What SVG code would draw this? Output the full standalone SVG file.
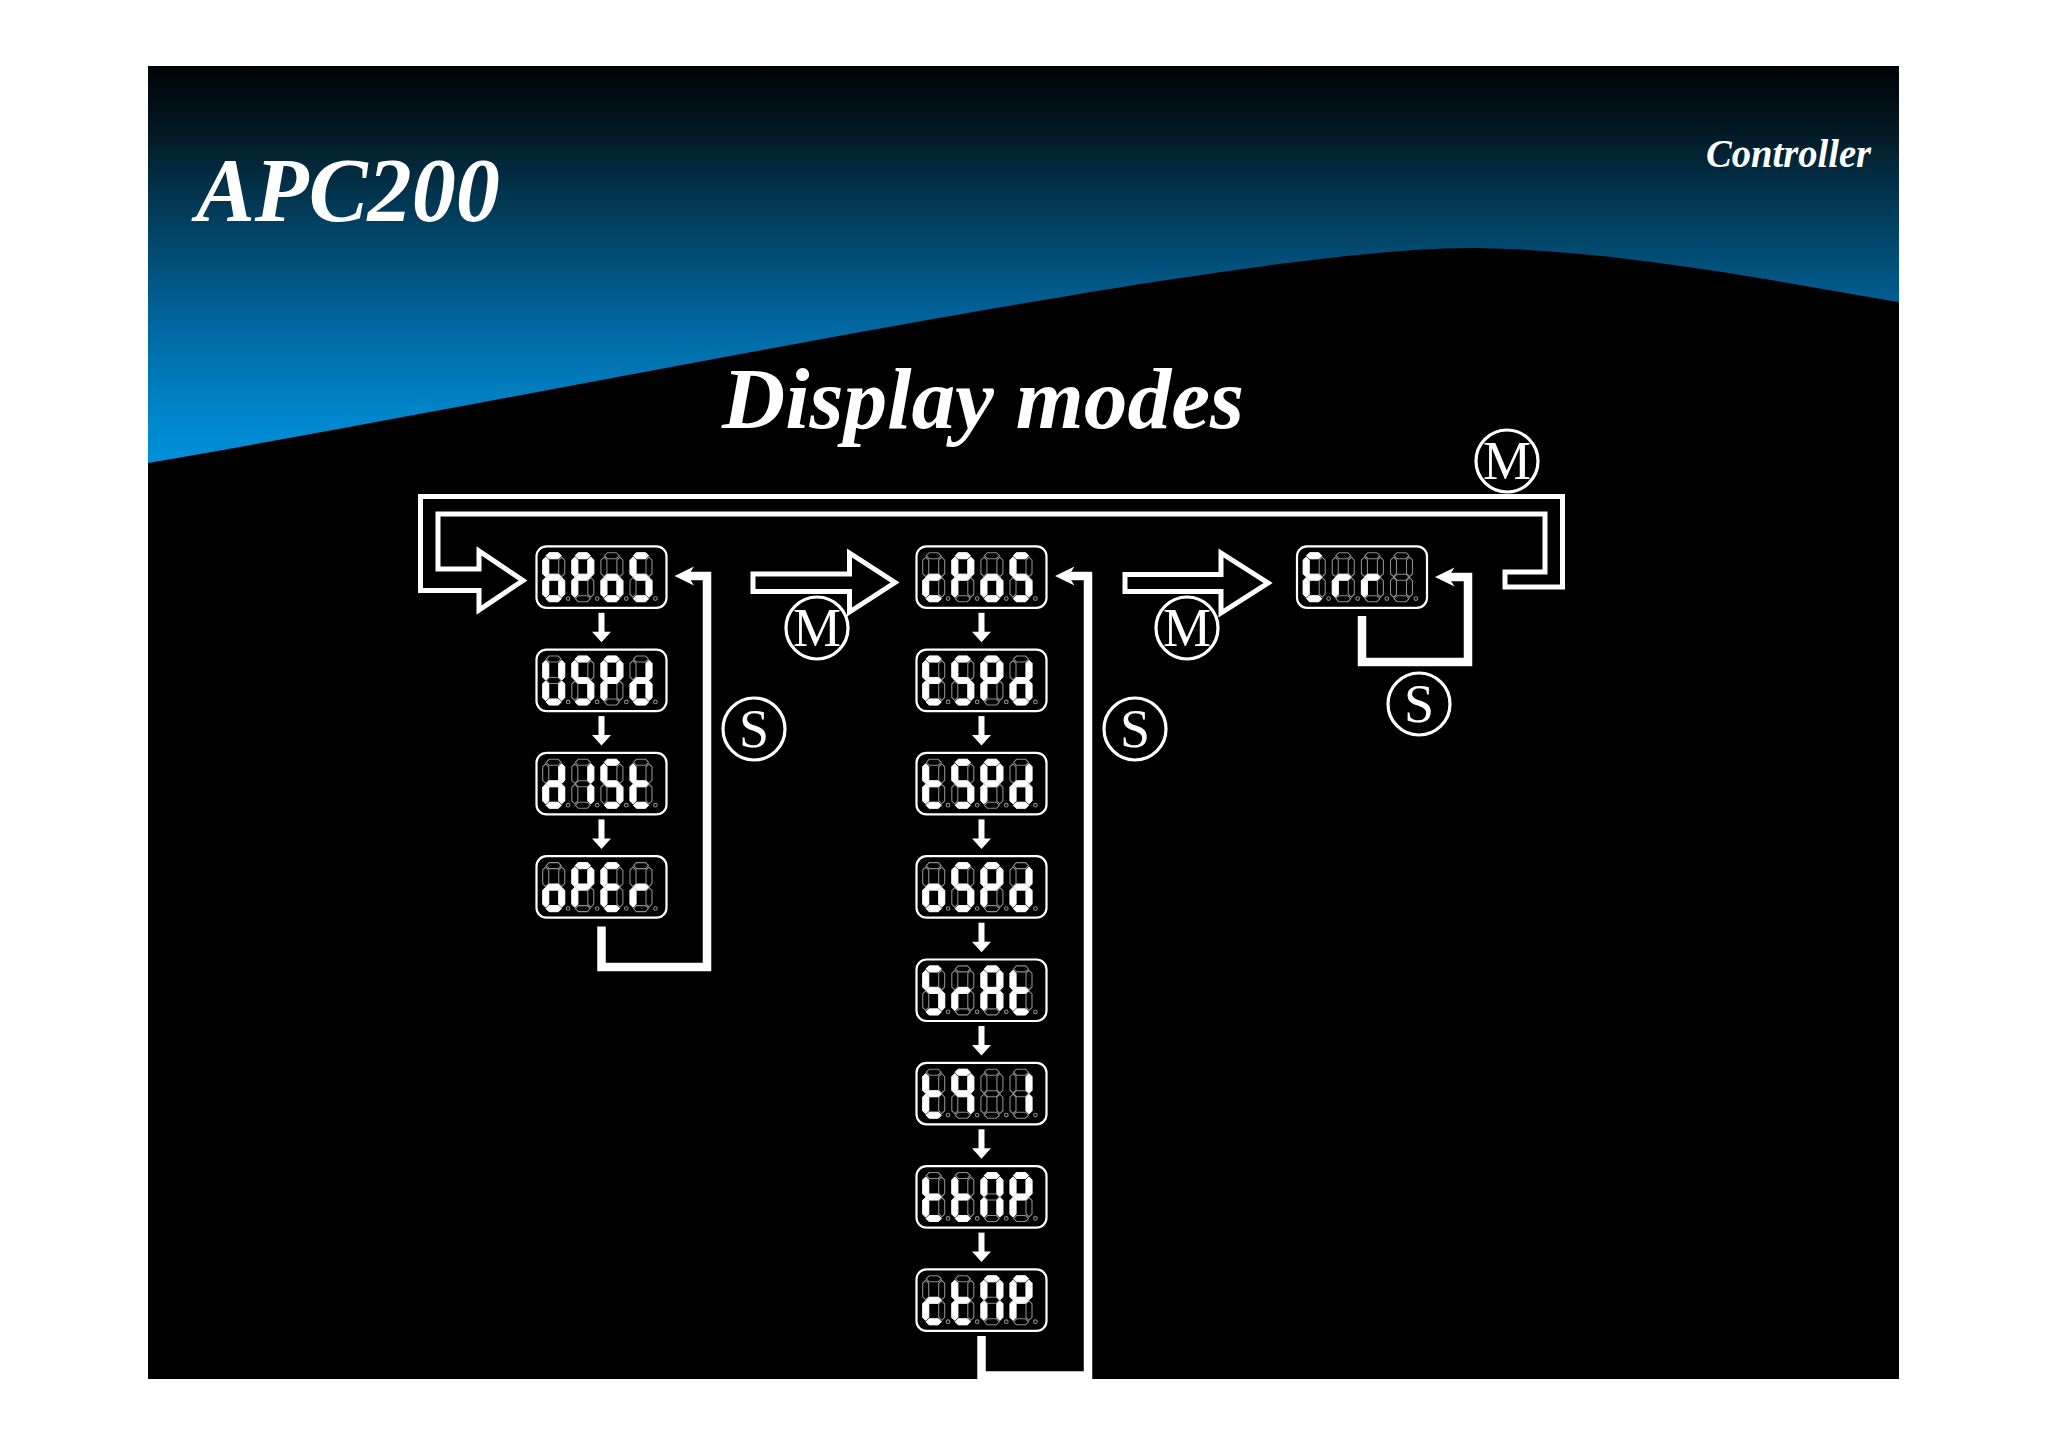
<svg xmlns="http://www.w3.org/2000/svg" xmlns:xlink="http://www.w3.org/1999/xlink" width="2048" height="1447" viewBox="0 0 2048 1447">
<style>
.title{font-family:"Liberation Serif","Times New Roman",serif;font-weight:bold;font-style:italic;fill:#fff}
.lbl{font-family:"Liberation Serif","Times New Roman",serif;fill:#fff;text-anchor:middle;font-size:54px}
.ring{fill:none;stroke:#fff;stroke-width:3.2}
.wire{fill:none;stroke:#fff;stroke-width:8.5;stroke-linejoin:miter;stroke-linecap:butt}
.band{fill:none;stroke:#fff;stroke-width:5;stroke-linejoin:miter}
.head{fill:#fff}
.frame{fill:#000;stroke:#fff;stroke-width:2.2}
.off{fill:none;stroke:#8c8c8c;stroke-width:1.1}
.on{fill:#fff;stroke:#fff;stroke-width:0.9;stroke-linejoin:round}
.dot{fill:none;stroke:#8c8c8c;stroke-width:1.1}
</style>
<defs>
<linearGradient id="sky" gradientUnits="userSpaceOnUse" x1="0" y1="66" x2="0" y2="470">
<stop offset="0" stop-color="#000306"/>
<stop offset="0.15" stop-color="#021722"/>
<stop offset="0.4" stop-color="#034263"/>
<stop offset="0.65" stop-color="#0068a2"/>
<stop offset="0.85" stop-color="#0084c8"/>
<stop offset="1" stop-color="#0092dc"/>
</linearGradient>
<polygon id="sa" points="3.5,3 6.5,0 15.5,0 18.5,3 15.5,6 6.5,6"/>
<polygon id="sg" points="3.5,24.5 6.5,21.5 15.5,21.5 18.5,24.5 15.5,27.5 6.5,27.5"/>
<polygon id="sd" points="3.5,46 6.5,43 15.5,43 18.5,46 15.5,49 6.5,49"/>
<polygon id="sf" points="3,4.5 6,7.5 6,21 3,24 0,21 0,7.5"/>
<polygon id="se" points="3,25 6,28 6,41.5 3,44.5 0,41.5 0,28"/>
<polygon id="sb" points="19,4.5 22,7.5 22,21 19,24 16,21 16,7.5"/>
<polygon id="sc" points="19,25 22,28 22,41.5 19,44.5 16,41.5 16,28"/>
<g id="d8" class="off"><use href="#sa"/><use href="#sb"/><use href="#sc"/><use href="#sd"/><use href="#se"/><use href="#sf"/><use href="#sg"/></g>
<g id="g6" class="on"><use href="#sa"/><use href="#sc"/><use href="#sd"/><use href="#se"/><use href="#sf"/><use href="#sg"/></g>
<g id="gP" class="on"><use href="#sa"/><use href="#sb"/><use href="#se"/><use href="#sf"/><use href="#sg"/></g>
<g id="go" class="on"><use href="#sc"/><use href="#sd"/><use href="#se"/><use href="#sg"/></g>
<g id="gS" class="on"><use href="#sa"/><use href="#sc"/><use href="#sd"/><use href="#sf"/><use href="#sg"/></g>
<g id="gU" class="on"><use href="#sb"/><use href="#sc"/><use href="#sd"/><use href="#se"/><use href="#sf"/></g>
<g id="gd" class="on"><use href="#sb"/><use href="#sc"/><use href="#sd"/><use href="#se"/><use href="#sg"/></g>
<g id="gt" class="on"><use href="#sd"/><use href="#se"/><use href="#sf"/><use href="#sg"/></g>
<g id="gr" class="on"><use href="#se"/><use href="#sg"/></g>
<g id="gE" class="on"><use href="#sa"/><use href="#sd"/><use href="#se"/><use href="#sf"/><use href="#sg"/></g>
<g id="gc" class="on"><use href="#sd"/><use href="#se"/><use href="#sg"/></g>
<g id="gA" class="on"><use href="#sa"/><use href="#sb"/><use href="#sc"/><use href="#se"/><use href="#sf"/><use href="#sg"/></g>
<g id="gq" class="on"><use href="#sa"/><use href="#sb"/><use href="#sc"/><use href="#sf"/><use href="#sg"/></g>
<g id="g1" class="on"><use href="#sb"/><use href="#sc"/></g>
<g id="gn" class="on"><use href="#sa"/><use href="#sb"/><use href="#sc"/><use href="#se"/><use href="#sf"/></g>
<g id="lcd">
<rect class="frame" x="0" y="0" width="130" height="61.5" rx="10"/>
<use href="#d8" x="6.2" y="6.4"/><use href="#d8" x="35.3" y="6.4"/><use href="#d8" x="64.4" y="6.4"/><use href="#d8" x="93.5" y="6.4"/>
<circle class="dot" cx="31.6" cy="52.3" r="1.8"/><circle class="dot" cx="60.7" cy="52.3" r="1.8"/><circle class="dot" cx="89.8" cy="52.3" r="1.8"/><circle class="dot" cx="118.9" cy="52.3" r="1.8"/>
</g>
<g id="dn" class="head"><rect x="-3" y="0" width="6" height="19.5"/><polygon points="-9.5,19 9.5,19 0,29.5"/></g>
</defs>

<rect x="0" y="0" width="2048" height="1447" fill="#fff"/>
<rect x="148" y="66" width="1751" height="1313" fill="url(#sky)"/>
<path d="M148,463 C600,385 1250,246 1476,248 C1620,250 1780,282 1899,302 L1899,1379 L148,1379 Z" fill="#000"/>

<text class="title" x="196" y="221" font-size="92" textLength="304" lengthAdjust="spacingAndGlyphs">APC200</text>
<text class="title" x="1706" y="167" font-size="39" textLength="165" lengthAdjust="spacingAndGlyphs">Controller</text>
<text class="title" x="722" y="428" font-size="87" textLength="522" lengthAdjust="spacingAndGlyphs">Display modes</text>

<g id="connectors">
<polygon class="band" points="1505,572 1545,572 1545,514 438,514 438,569 479,569 479,551 523,580.5 479,610 479,590.5 420.5,590.5 420.5,496.5 1562.5,496.5 1562.5,587 1505,587"/>
<polygon class="band" points="753,574 849.5,574 849.5,553 895,582.5 849.5,612 849.5,591.5 753,591.5"/>
<polygon class="band" points="1125,574.5 1221,574.5 1221,553 1268,583 1221,613 1221,591.5 1125,591.5"/>
<path class="wire" d="M601.5,926.5 V967 H707 V576 H686"/>
<polygon class="head" points="674.5,576 694,566.5 688,576 694,585.5"/>
<path class="wire" d="M981.5,1336 V1375.5 H1088 V576 H1066"/>
<polygon class="head" points="1055,576 1074.5,566.5 1068.5,576 1074.5,585.5"/>
<path class="wire" d="M1362,616 V662 H1468 V577 H1446"/>
<polygon class="head" points="1435,577 1454.5,567.5 1448.5,577 1454.5,586.5"/>
<use href="#dn" x="601.5" y="612.8"/>
<use href="#dn" x="601.5" y="716.1"/>
<use href="#dn" x="601.5" y="819.4"/>
<use href="#dn" x="981.5" y="612.8"/>
<use href="#dn" x="981.5" y="716.1"/>
<use href="#dn" x="981.5" y="819.4"/>
<use href="#dn" x="981.5" y="922.7"/>
<use href="#dn" x="981.5" y="1026"/>
<use href="#dn" x="981.5" y="1129.3"/>
<use href="#dn" x="981.5" y="1232.6"/>
</g>

<g id="key-M-top"><circle class="ring" cx="1507" cy="461" r="31"/><text class="lbl" x="1507" y="479">M</text></g>
<g id="key-M-1"><circle class="ring" cx="817" cy="628" r="31"/><text class="lbl" x="817" y="646">M</text></g>
<g id="key-M-2"><circle class="ring" cx="1187" cy="628" r="31"/><text class="lbl" x="1187" y="646">M</text></g>
<g id="key-S-1"><circle class="ring" cx="754" cy="729" r="31"/><text class="lbl" x="754" y="747">S</text></g>
<g id="key-S-2"><circle class="ring" cx="1135" cy="729" r="31"/><text class="lbl" x="1135" y="747">S</text></g>
<g id="key-S-3"><circle class="ring" cx="1419" cy="704" r="31"/><text class="lbl" x="1419" y="722">S</text></g>

<g id="node-6PoS" transform="translate(536.5,546.3)"><use href="#lcd"/><use href="#g6" x="6.2" y="6.4"/><use href="#gP" x="35.3" y="6.4"/><use href="#go" x="64.4" y="6.4"/><use href="#gS" x="93.5" y="6.4"/></g>
<g id="node-USPd" transform="translate(536.5,649.6)"><use href="#lcd"/><use href="#gU" x="6.2" y="6.4"/><use href="#gS" x="35.3" y="6.4"/><use href="#gP" x="64.4" y="6.4"/><use href="#gd" x="93.5" y="6.4"/></g>
<g id="node-d1St" transform="translate(536.5,752.9)"><use href="#lcd"/><use href="#gd" x="6.2" y="6.4"/><use href="#g1" x="35.3" y="6.4"/><use href="#gS" x="64.4" y="6.4"/><use href="#gt" x="93.5" y="6.4"/></g>
<g id="node-oPEr" transform="translate(536.5,856.2)"><use href="#lcd"/><use href="#go" x="6.2" y="6.4"/><use href="#gP" x="35.3" y="6.4"/><use href="#gE" x="64.4" y="6.4"/><use href="#gr" x="93.5" y="6.4"/></g>

<g id="node-cPoS" transform="translate(916.5,546.3)"><use href="#lcd"/><use href="#gc" x="6.2" y="6.4"/><use href="#gP" x="35.3" y="6.4"/><use href="#go" x="64.4" y="6.4"/><use href="#gS" x="93.5" y="6.4"/></g>
<g id="node-ESPd" transform="translate(916.5,649.6)"><use href="#lcd"/><use href="#gE" x="6.2" y="6.4"/><use href="#gS" x="35.3" y="6.4"/><use href="#gP" x="64.4" y="6.4"/><use href="#gd" x="93.5" y="6.4"/></g>
<g id="node-tSPd" transform="translate(916.5,752.9)"><use href="#lcd"/><use href="#gt" x="6.2" y="6.4"/><use href="#gS" x="35.3" y="6.4"/><use href="#gP" x="64.4" y="6.4"/><use href="#gd" x="93.5" y="6.4"/></g>
<g id="node-oSPd" transform="translate(916.5,856.2)"><use href="#lcd"/><use href="#go" x="6.2" y="6.4"/><use href="#gS" x="35.3" y="6.4"/><use href="#gP" x="64.4" y="6.4"/><use href="#gd" x="93.5" y="6.4"/></g>
<g id="node-SrAt" transform="translate(916.5,959.5)"><use href="#lcd"/><use href="#gS" x="6.2" y="6.4"/><use href="#gr" x="35.3" y="6.4"/><use href="#gA" x="64.4" y="6.4"/><use href="#gt" x="93.5" y="6.4"/></g>
<g id="node-tq1" transform="translate(916.5,1062.8)"><use href="#lcd"/><use href="#gt" x="6.2" y="6.4"/><use href="#gq" x="35.3" y="6.4"/><use href="#g1" x="93.5" y="6.4"/></g>
<g id="node-ttnP" transform="translate(916.5,1166.1)"><use href="#lcd"/><use href="#gt" x="6.2" y="6.4"/><use href="#gt" x="35.3" y="6.4"/><use href="#gn" x="64.4" y="6.4"/><use href="#gP" x="93.5" y="6.4"/></g>
<g id="node-ctnP" transform="translate(916.5,1269.4)"><use href="#lcd"/><use href="#gc" x="6.2" y="6.4"/><use href="#gt" x="35.3" y="6.4"/><use href="#gn" x="64.4" y="6.4"/><use href="#gP" x="93.5" y="6.4"/></g>

<g id="node-Err" transform="translate(1297,546.3)"><use href="#lcd"/><use href="#gE" x="6.2" y="6.4"/><use href="#gr" x="35.3" y="6.4"/><use href="#gr" x="64.4" y="6.4"/></g>
</svg>
